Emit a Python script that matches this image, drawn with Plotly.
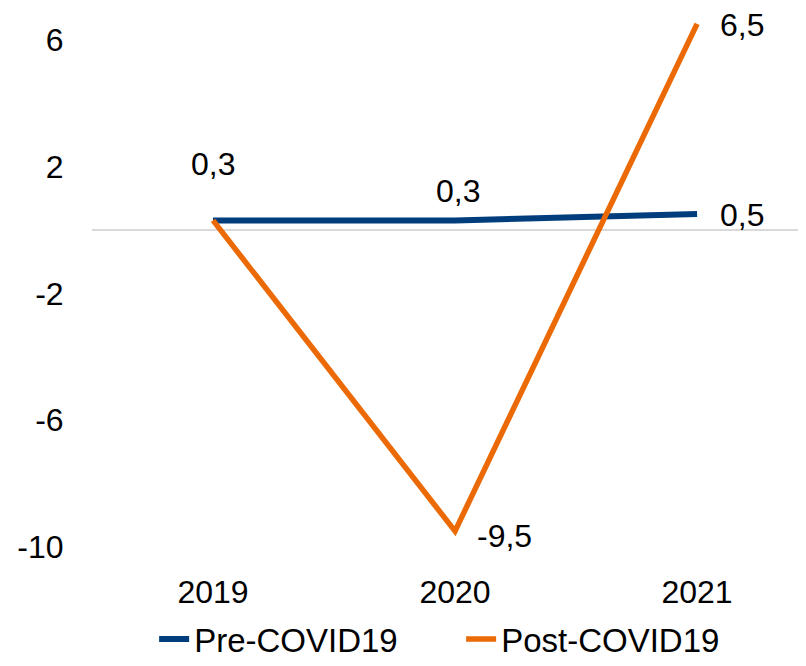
import plotly.graph_objects as go

years = ["2019", "2020", "2021"]
pre_covid = [0.3, 0.3, 0.5]
post_covid = [0.3, -9.5, 6.5]
y_ticks = [-10, -6, -2, 2, 6]
y_tick_text = ["-10", "-6", "-2", "2", "6"]

def fmt(v):
    return f"{v:.1f}".replace(".", ",")

FONT = "Liberation Sans"
FS = 32
BLUE = "#003D7D"
ORANGE = "#EC6A05"

fig = go.Figure()
fig.add_trace(go.Scatter(x=years, y=pre_covid, mode="lines", name="Pre-COVID19",
                         line=dict(color=BLUE, width=6)))
fig.add_trace(go.Scatter(x=years, y=post_covid, mode="lines", name="Post-COVID19",
                         line=dict(color=ORANGE, width=5.5)))

# category positions (indices) for annotations on the category axis
pos = {y: i for i, y in enumerate(years)}
annots = [
    dict(x=pos[years[0]], y=pre_covid[0], text=fmt(pre_covid[0]), xanchor="center", yshift=56),
    dict(x=pos[years[1]], y=pre_covid[1], text=fmt(pre_covid[1]), xanchor="center", yshift=29, xshift=3),
    dict(x=pos[years[2]], y=pre_covid[2], text=fmt(pre_covid[2]), xanchor="left", xshift=21, yshift=-1),
    dict(x=pos[years[1]], y=post_covid[1], text=fmt(post_covid[1]), xanchor="left", xshift=20, yshift=-5),
    dict(x=pos[years[2]], y=post_covid[2], text=fmt(post_covid[2]), xanchor="left", xshift=21, yshift=-1),
]
for a in annots:
    a.update(xref="x", yref="y", showarrow=False, yanchor="middle",
             font=dict(family=FONT, size=FS, color="#000000"))
    fig.add_annotation(**a)

fig.update_layout(
    width=790, height=650,
    margin=dict(l=84, r=0, t=0, b=111, autoexpand=False),
    paper_bgcolor="white", plot_bgcolor="white",
    font=dict(family=FONT, size=FS, color="#000000"),
    showlegend=True,
    legend=dict(orientation="h", x=0.088, xanchor="left", y=-0.171, yanchor="middle",
                font=dict(family=FONT, size=33, color="#000000"),
                entrywidth=262, bgcolor="rgba(0,0,0,0)"),
    xaxis=dict(type="category", range=[-0.5, 2.417], showgrid=False, zeroline=False,
               showline=False, ticks="outside", ticklen=17, tickcolor="rgba(0,0,0,0)",
               automargin=False,
               tickfont=dict(family=FONT, size=FS, color="#000000")),
    yaxis=dict(range=[-10, 7], tickvals=y_ticks, ticktext=y_tick_text, showgrid=False,
               zeroline=True, zerolinecolor="#D9D9D9", zerolinewidth=2, showline=False,
               ticks="outside", ticklen=21, tickcolor="rgba(0,0,0,0)", automargin=False,
               tickfont=dict(family=FONT, size=FS, color="#000000")),
)

fig.write_html("out.html")
